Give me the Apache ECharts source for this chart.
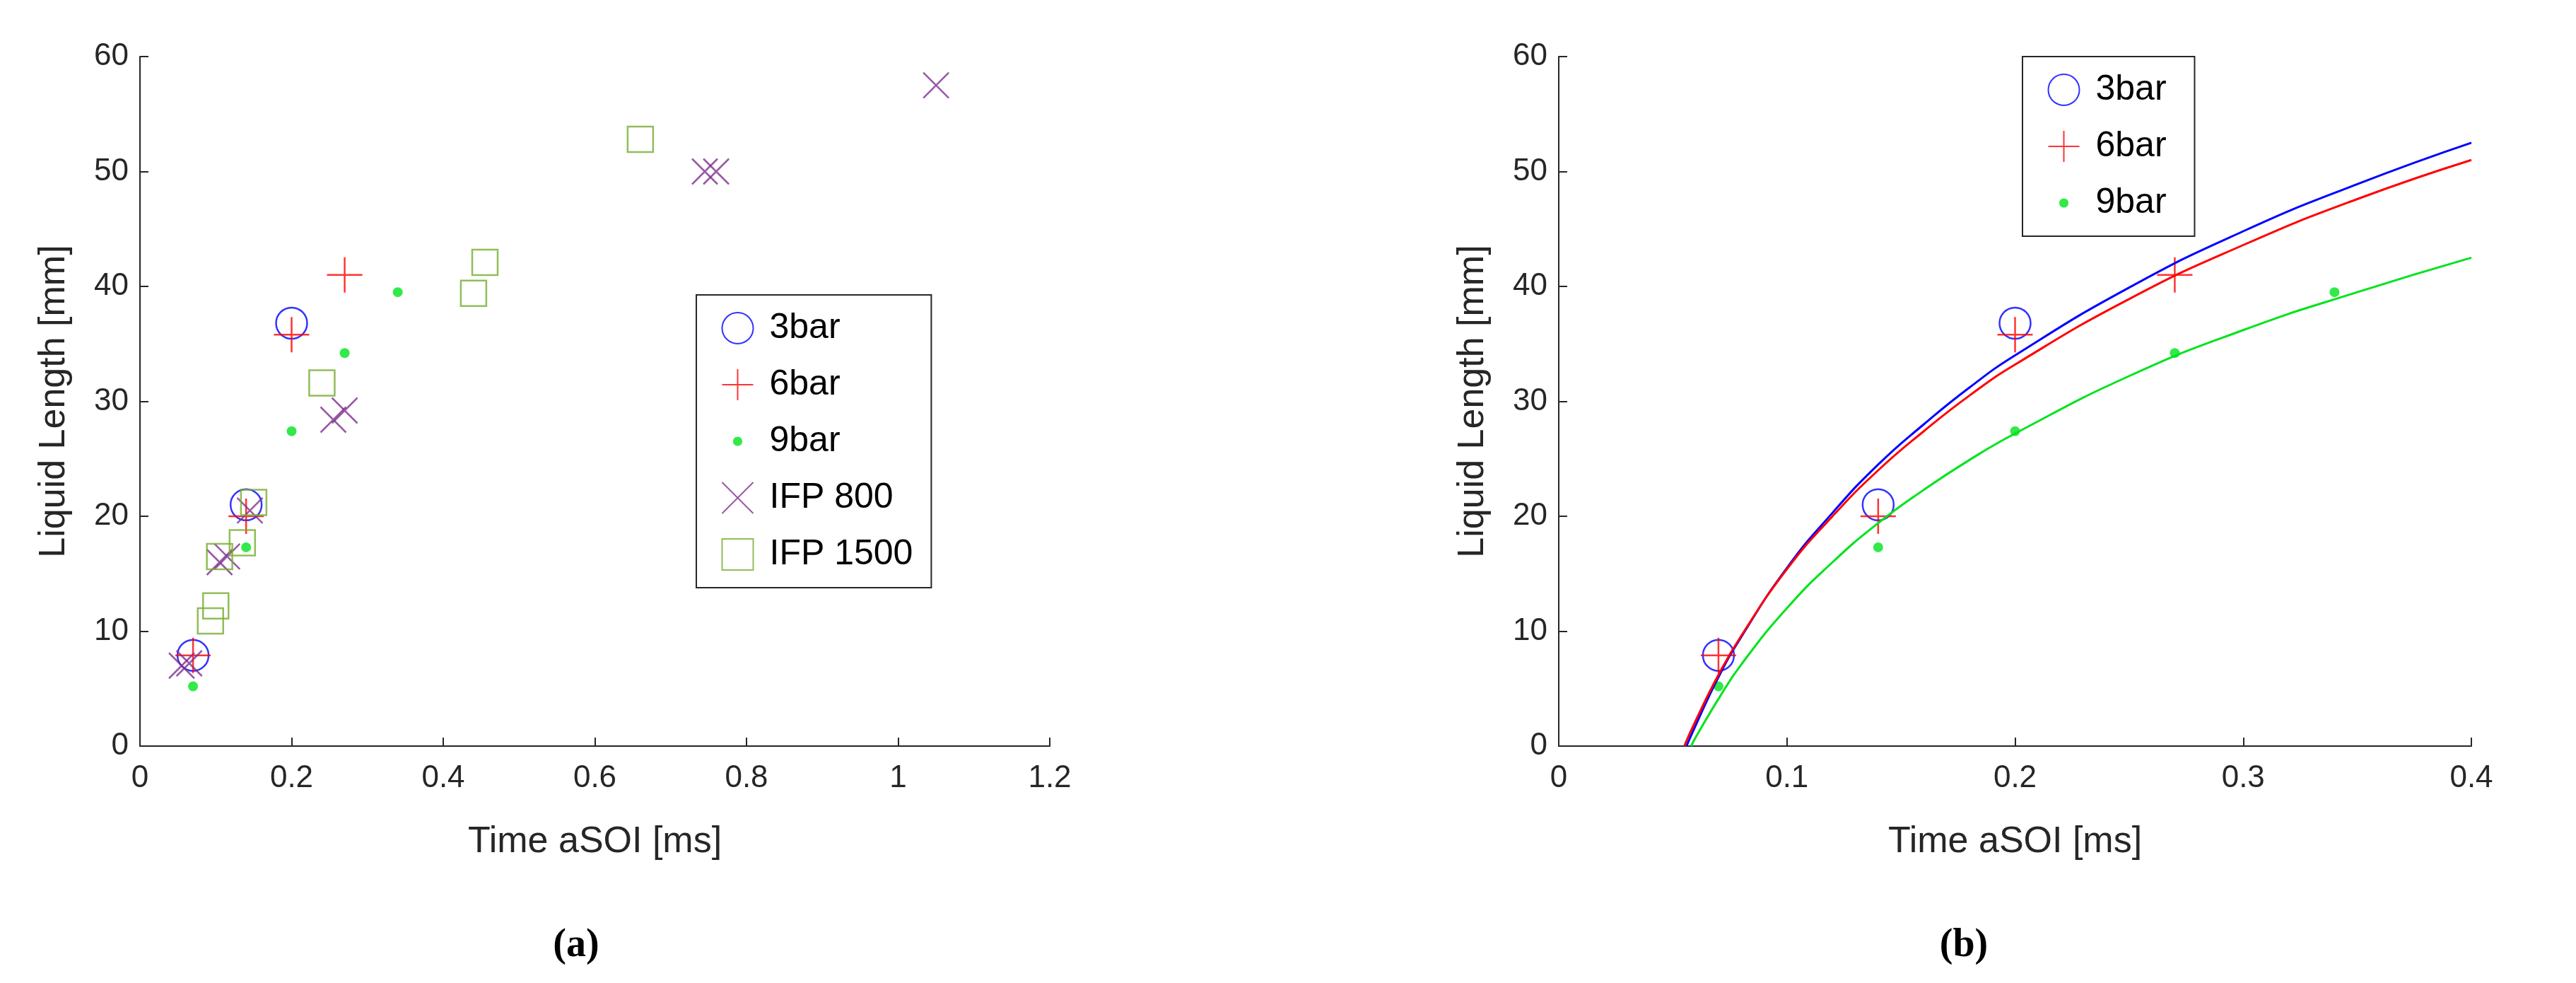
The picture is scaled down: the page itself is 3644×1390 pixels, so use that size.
<!DOCTYPE html>
<html><head><meta charset="utf-8">
<script src="https://cdn.jsdelivr.net/npm/echarts@6/dist/echarts.min.js"></script>
<style>html,body{margin:0;background:#fff}#c{width:3644px;height:1390px}</style>
</head><body><div id="c"></div>
<script>
// measured points
var bar3 = [[0.07, 7.9], [0.14, 21], [0.2, 36.8]];
var bar6 = [[0.07, 7.9], [0.14, 20], [0.2, 35.8], [0.27, 41]];
var bar9 = [[0.07, 5.2], [0.14, 17.3], [0.2, 27.4], [0.27, 34.2], [0.34, 39.5]];
var ifp800 = [[0.055, 7], [0.065, 7.2], [0.105, 16], [0.115, 16.5], [0.145, 20.5],
  [0.255, 28.4], [0.27, 29.2], [0.745, 50], [0.76, 50], [1.05, 57.5]];
var ifp1500 = [[0.093, 10.9], [0.1, 12.2], [0.105, 16.5], [0.135, 17.7], [0.15, 21.2],
  [0.24, 31.6], [0.44, 39.4], [0.455, 42.1], [0.66, 52.8]];
// fitted curves
var fit3 = [[0.056, 0], [0.06, 1.8], [0.07, 6.0], [0.08, 9.5], [0.1, 15.5], [0.12, 20.3], [0.14, 24.5],
  [0.16, 28.0], [0.18, 31.2], [0.2, 34.0], [0.25, 39.9], [0.3, 44.8], [0.35, 48.9], [0.4, 52.5]];
var fit6 = [[0.055, 0], [0.06, 2.2], [0.07, 6.2], [0.08, 9.6], [0.1, 15.4], [0.12, 20.0], [0.14, 24.0],
  [0.16, 27.4], [0.18, 30.5], [0.2, 33.2], [0.25, 38.9], [0.3, 43.6], [0.35, 47.6], [0.4, 51.0]];
var fit9 = [[0.058, 0], [0.06, 0.75], [0.07, 4.1], [0.08, 7.1], [0.1, 12.0], [0.12, 16.0], [0.14, 19.4],
  [0.16, 22.3], [0.18, 24.9], [0.2, 27.2], [0.25, 32.2], [0.3, 36.2], [0.35, 39.5], [0.4, 42.5]];

var PLUS = 'path://M0,-10L0,10M-10,0L10,0';
var CROSS = 'path://M-10,-10L10,10M-10,10L10,-10';
var SQUARE = 'path://M-10,-10L10,-10L10,10L-10,10Z';
var font = 'Liberation Sans';

function axisX(idx, max, interval) {
  return {
    gridIndex: idx, type: 'value', min: 0, max: max, interval: interval,
    name: 'Time aSOI [ms]', nameLocation: 'middle', nameGap: 110,
    nameTextStyle: {fontFamily: font, fontSize: 52, color: '#262626'},
    axisLine: {lineStyle: {color: '#262626', width: 2}},
    axisTick: {inside: true, length: 12, lineStyle: {color: '#262626', width: 2}},
    axisLabel: {fontFamily: font, fontSize: 44, color: '#262626', margin: 24},
    splitLine: {show: false}
  };
}
function axisY(idx) {
  return {
    gridIndex: idx, type: 'value', min: 0, max: 60, interval: 10,
    name: 'Liquid Length [mm]', nameLocation: 'middle', nameGap: 95,
    nameTextStyle: {fontFamily: font, fontSize: 52, color: '#262626'},
    axisLine: {show: true, lineStyle: {color: '#262626', width: 2}},
    axisTick: {inside: true, length: 12, lineStyle: {color: '#262626', width: 2}},
    axisLabel: {fontFamily: font, fontSize: 44, color: '#262626', margin: 16},
    splitLine: {show: false}
  };
}
function pts(name, data, idx, sym, size, color, filled) {
  return {
    name: name, type: 'scatter', xAxisIndex: idx, yAxisIndex: idx, data: data,
    symbol: sym, symbolSize: size,
    itemStyle: filled ? {color: color} : {color: 'none', borderColor: color, borderWidth: 2.5}
  };
}
function fit(data, color) {
  return {
    type: 'line', xAxisIndex: 1, yAxisIndex: 1, data: data, smooth: true, showSymbol: false,
    lineStyle: {color: color, width: 3}, silent: true
  };
}
var legendStyle = {
  orient: 'vertical', backgroundColor: '#fff', borderColor: '#262626', borderWidth: 2,
  borderRadius: 0, padding: [22, 26, 22, 34], itemGap: 30, itemWidth: 44, itemHeight: 44,
  textStyle: {fontFamily: font, fontSize: 50, color: '#000', padding: [0, 0, 0, 18]}
};
function legendItems(names) {
  return names.map(function (n) {
    // the dot marker looks small in the original legend
    return n.indexOf('9bar') === 0 ? {name: n, icon: 'path://M-1,-1M1,1M-0.3,0A0.3,0.3,0,1,0,0.3,0A0.3,0.3,0,1,0,-0.3,0Z'} : n;
  });
}

var chart = echarts.init(document.getElementById('c'));
chart.setOption({
  animation: false,
  grid: [
    {left: 198, right: 2159, top: 80, bottom: 335},
    {left: 2205, right: 148, top: 80, bottom: 335}
  ],
  xAxis: [axisX(0, 1.2, 0.2), axisX(1, 0.4, 0.1)],
  yAxis: [axisY(0), axisY(1)],
  legend: [
    Object.assign({left: 985, top: 417, data: legendItems(['3bar', '6bar', '9bar', 'IFP 800', 'IFP 1500'])}, legendStyle),
    Object.assign({left: 2861, top: 80, data: legendItems(['3bar ', '6bar ', '9bar '])}, legendStyle)
  ],
  title: [
    {text: '(a)', left: 810, top: 1305, textAlign: 'center',
      textStyle: {fontFamily: 'Liberation Serif', fontSize: 56, fontWeight: 'bold', color: '#000'}},
    {text: '(b)', left: 2773, top: 1305, textAlign: 'center',
      textStyle: {fontFamily: 'Liberation Serif', fontSize: 56, fontWeight: 'bold', color: '#000'}}
  ],
  series: [
    pts('3bar', bar3, 0, 'circle', 44, '#0000ff', false),
    pts('6bar', bar6, 0, PLUS, 50, '#ff0000', false),
    pts('9bar', bar9, 0, 'circle', 14, '#00e31c', true),
    pts('IFP 800', ifp800, 0, CROSS, 36, '#7e2f8e', false),
    pts('IFP 1500', ifp1500, 0, SQUARE, 36, '#77ac30', false),
    fit(fit3, '#0000ff'),
    fit(fit6, '#ff0000'),
    fit(fit9, '#00e31c'),
    pts('3bar ', bar3, 1, 'circle', 44, '#0000ff', false),
    pts('6bar ', bar6, 1, PLUS, 50, '#ff0000', false),
    pts('9bar ', bar9, 1, 'circle', 14, '#00e31c', true)
  ]
});
</script></body></html>
